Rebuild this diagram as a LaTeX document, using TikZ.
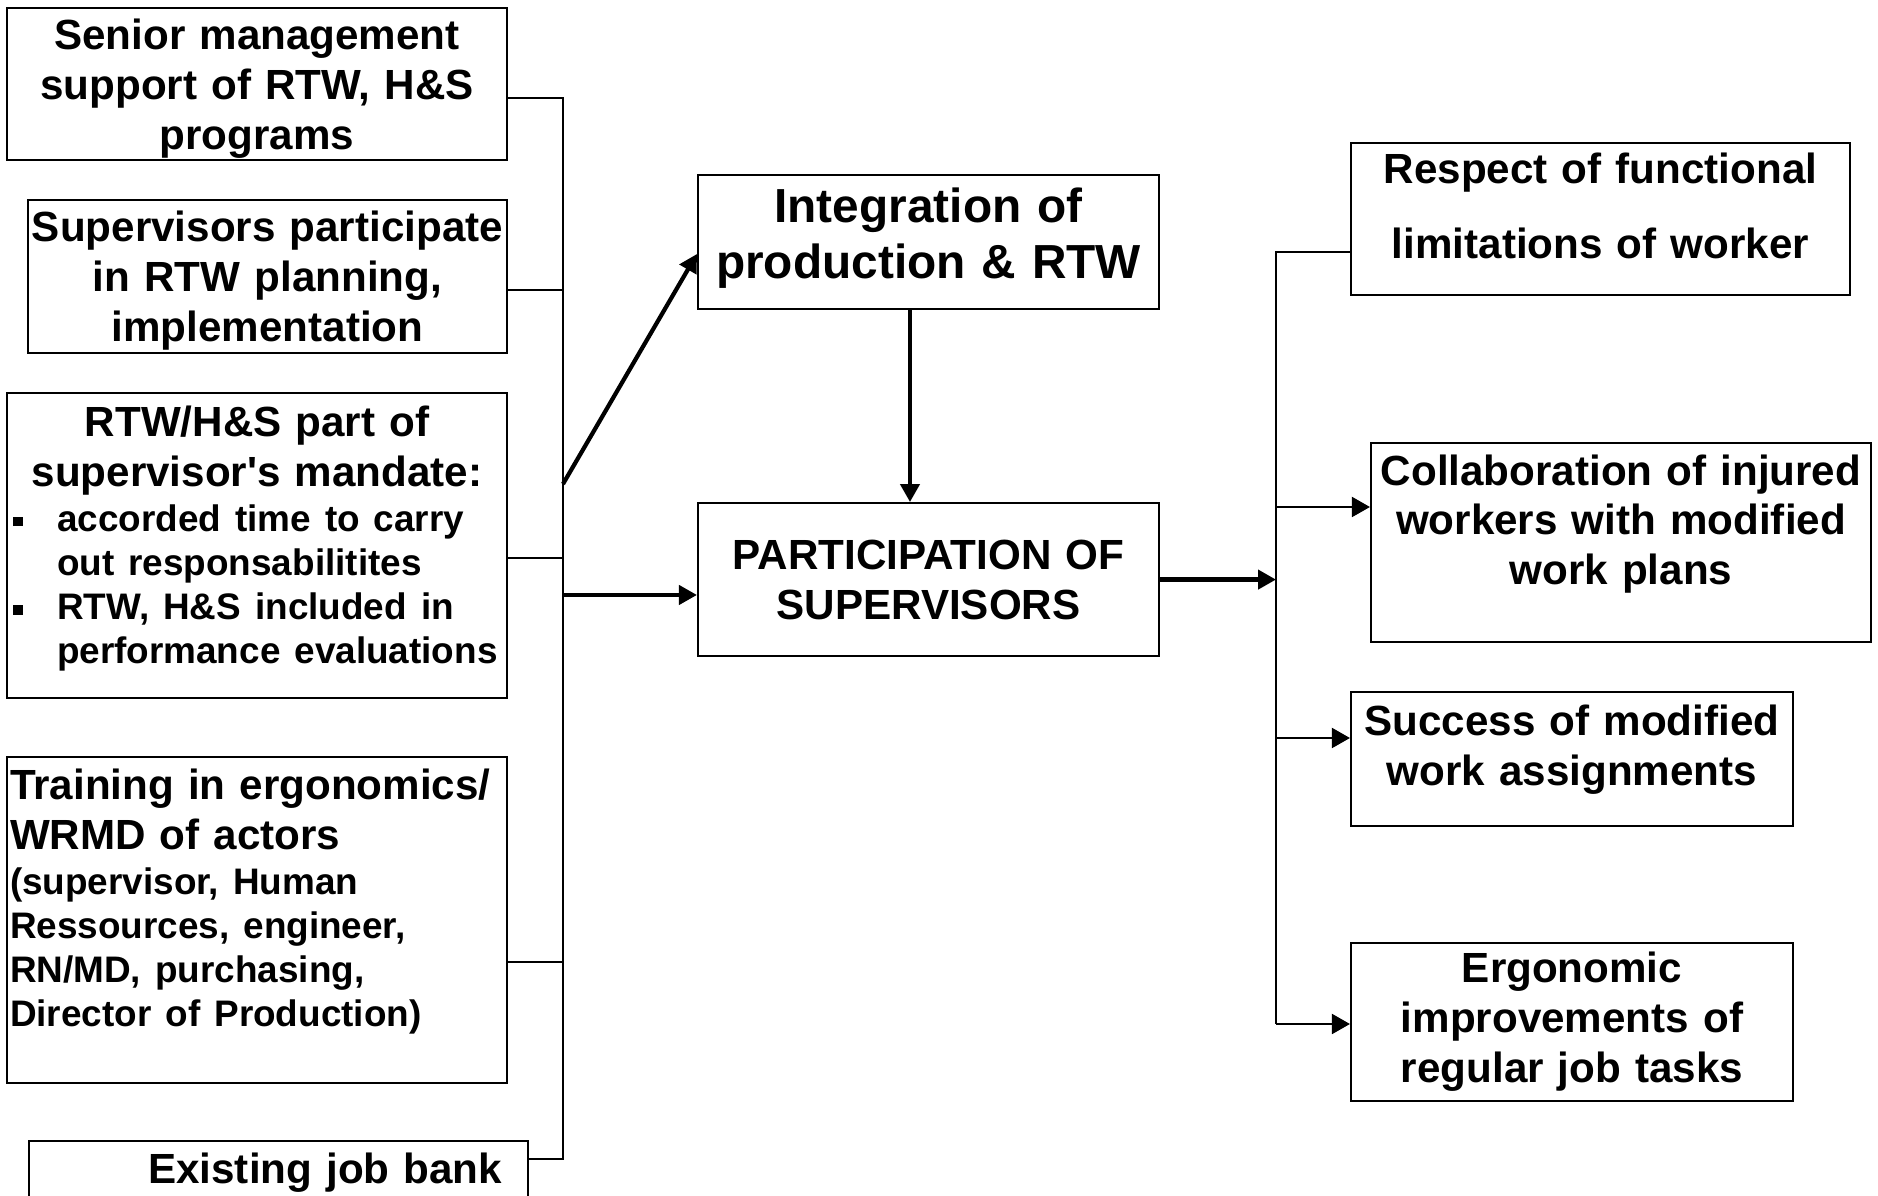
\documentclass[tikz,border=0pt]{standalone}
\usepackage{fontspec}
\setmainfont{Liberation Sans}
\usetikzlibrary{arrows.meta, positioning, calc}
\tikzset{
    box/.style={rectangle, draw=black, line width=0.6pt, inner xsep=0.03cm, inner ysep=0pt,
        align=center, font=\bfseries\fontsize{12}{14.2}\selectfont},
    link/.style={line width=0.55pt},
    arrow/.style={-{Triangle[length=1.8mm, width=2mm]}, line width=0.55pt},
    bigarrow/.style={-{Triangle[length=1.8mm, width=1.9mm]}, line width=1.2pt}
}
\newcommand{\smalltxt}{\fontsize{10.5}{12.6}\selectfont}
\newcommand{\sqbullet}{\makebox[0.47cm][l]{\hspace{0.03cm}\rule[0.05cm]{0.095cm}{0.095cm}}}
% invisible struts to nudge text up or down inside a box
\newcommand{\highstrut}[1]{\rule{0pt}{#1}}
\newcommand{\lowstrut}[1]{\rule[-#1]{0pt}{#1}}

\begin{document}
\begin{tikzpicture}
    \useasboundingbox (0,0) rectangle (18.78,-11.96);
    \clip (0,0) rectangle (18.78,-11.96);

    % left column
    \node[box, text width=4.94cm, minimum height=1.52cm] (senior) at (2.57,-0.84)
        {\highstrut{11.6pt}Senior management\\support of RTW, H\&S\\programs};
    \node[box, text width=4.73cm, minimum height=1.53cm] (plan) at (2.675,-2.765)
        {\highstrut{10.9pt}Supervisors participate\\in RTW planning,\\implementation};
    \node[box, text width=4.94cm, minimum height=3.05cm, align=left] (mandate) at (2.57,-5.455)
        {{\centering RTW/H\&S part of\\supervisor\textquotesingle s mandate:\par}
         {\smalltxt\sqbullet accorded time to carry\\\hspace*{0.47cm}out responsabilitites\\
          \sqbullet RTW, H\&S included in\\\hspace*{0.47cm}performance evaluations\lowstrut{5.9pt}\par}};
    \node[box, text width=4.94cm, minimum height=3.26cm, align=left] (training) at (2.57,-9.20)
        {Training in ergonomics/\\WRMD of actors\par
         {\smalltxt (supervisor, Human\\Ressources, engineer,\\RN/MD, purchasing,\\Director of Production)\lowstrut{12.4pt}\par}};
    \node[box, text width=4.93cm, align=right, inner ysep=0.12cm, text depth=0.9cm, anchor=north west]
        (jobbank) at (0.28,-11.40) {Existing job bank\rule{0.23cm}{0pt}};

    % centre
    \node[box, text width=4.55cm, minimum height=1.34cm, font=\bfseries\fontsize{13.6}{16}\selectfont]
        (integ) at (9.285,-2.42) {Integration of\\production \& RTW\lowstrut{4.9pt}};
    \node[box, text width=4.55cm, minimum height=1.53cm, below=1.92cm of integ] (particip)
        {PARTICIPATION OF\\SUPERVISORS};

    % right column
    \node[box, text width=4.93cm, minimum height=1.52cm] (respect) at (16.005,-2.19)
        {Respect of functional\\[7.1pt]limitations of worker\lowstrut{7.5pt}};
    \node[box, text width=4.94cm, minimum height=1.99cm] (collab) at (16.21,-5.425)
        {Collaboration of injured\\workers with modified\\work plans\lowstrut{13pt}};
    \node[box, text width=4.36cm, minimum height=1.34cm] (success) at (15.72,-7.59)
        {Success of modified\\work assignments\lowstrut{7.9pt}};
    \node[box, text width=4.36cm, minimum height=1.58cm] (ergo) at (15.72,-10.22)
        {Ergonomic\\improvements of\\regular job tasks};

    % bus points
    \coordinate (ltop) at (5.63,-0.98);
    \coordinate (l2) at (5.63,-2.90);
    \coordinate (l3) at (5.63,-5.58);
    \coordinate (l4) at (5.63,-9.62);
    \coordinate (lbot) at (5.63,-11.59);
    \coordinate (ldiag) at (5.63,-4.84);
    \coordinate (lmid) at (5.63,-5.95);
    \coordinate (rtop) at (12.76,-2.52);
    \coordinate (r2) at (12.76,-5.07);
    \coordinate (r3) at (12.76,-7.38);
    \coordinate (rbot) at (12.76,-10.24);

    \draw[link] (senior.east |- ltop) -- (ltop) -- (lbot) -- (jobbank.east |- lbot);
    \draw[link] (plan.east |- l2) -- (l2);
    \draw[link] (mandate.east |- l3) -- (l3);
    \draw[link] (training.east |- l4) -- (l4);

    \draw[bigarrow] (ldiag) -- ([yshift=-1.2mm]integ.west);
    \draw[bigarrow] (lmid) -- (lmid -| particip.west);
    \draw[bigarrow] ([xshift=-1.85mm]integ.south) -- ([xshift=-1.85mm]particip.north);
    \draw[bigarrow] (particip.east) -- (particip.east -| rtop);

    \draw[link] (respect.west |- rtop) -- (rtop) -- (rbot);
    \draw[arrow] (r2) -- (r2 -| collab.west);
    \draw[arrow] (r3) -- (r3 -| success.west);
    \draw[arrow] (rbot) -- (rbot -| ergo.west);
\end{tikzpicture}
\end{document}
